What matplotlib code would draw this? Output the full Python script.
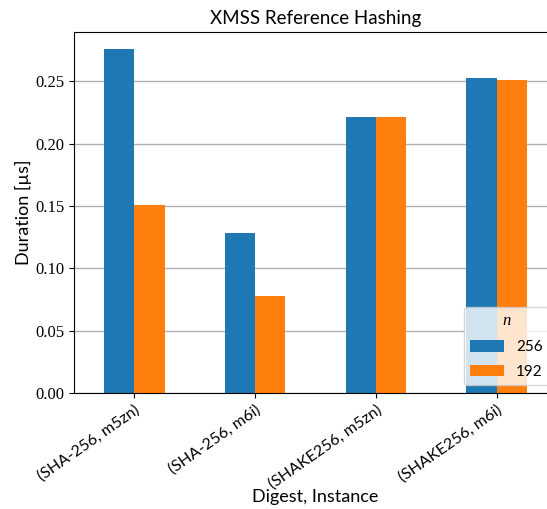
import matplotlib
matplotlib.use("Agg")
import matplotlib.pyplot as plt
import numpy as np

# Hashing duration per digest/instance pair, for the two parameter sets n
categories = ["(SHA-256, m5zn)", "(SHA-256, m6i)", "(SHAKE256, m5zn)", "(SHAKE256, m6i)"]
n_labels = ["256", "192"]
dur_256 = [0.276, 0.1283, 0.2214, 0.2527]
dur_192 = [0.1508, 0.0778, 0.2214, 0.2511]
yticks = [0.00, 0.05, 0.10, 0.15, 0.20, 0.25]

SANS = ["Lato", "DejaVu Sans"]
SERIF = ["Liberation Serif", "DejaVu Serif"]

W, H = 547, 509
fig = plt.figure(figsize=(W / 100, H / 100), dpi=100)
ax = fig.add_axes([74 / W, (H - 393) / H, (557 - 74) / W, (393 - 32) / H])

x = np.arange(len(categories))
width = 0.25
ax.bar(x - width / 2, dur_256, width, color="#1f77b4", label=n_labels[0], zorder=2)
ax.bar(x + width / 2, dur_192, width, color="#ff7f0e", label=n_labels[1], zorder=2)

ax.set_xlim(-0.5, 3.5)
ax.set_ylim(0, 0.2896)
ax.set_yticks(yticks)
ax.set_yticklabels([f"{t:.2f}" for t in yticks], family=SERIF, fontsize=12)
ax.set_xticks(x)
ax.set_xticklabels(categories, rotation=35, ha="right", rotation_mode="anchor",
                   family=SANS, fontsize=11.5)
ax.yaxis.grid(True, color="#b0b0b0", linewidth=1, zorder=0)
ax.set_axisbelow(True)

ax.set_title("XMSS Reference Hashing", family=SANS, fontsize=13.5, pad=6)
ax.set_ylabel("Duration [µs]", family=SANS, fontsize=13, va="center")
ax.set_xlabel("Digest, Instance", family=SANS, fontsize=13, va="center")
ax.xaxis.set_label_coords(0.5, (393 - 497) / 361)
ax.yaxis.set_label_coords((23 - 74) / 483, 0.5)

leg = ax.legend(title="n", loc="lower right", bbox_to_anchor=(549 / W, (H - 385) / H),
                bbox_transform=fig.transFigure, borderaxespad=0,
                prop={"family": SANS, "size": 11}, handlelength=2.2, handleheight=0.8,
                labelspacing=0.7, framealpha=0.8)
leg.get_title().set_fontstyle("italic")
leg.get_title().set_fontfamily(SERIF)
leg.get_title().set_fontsize(12)

fig.savefig("out.png", dpi=100)
